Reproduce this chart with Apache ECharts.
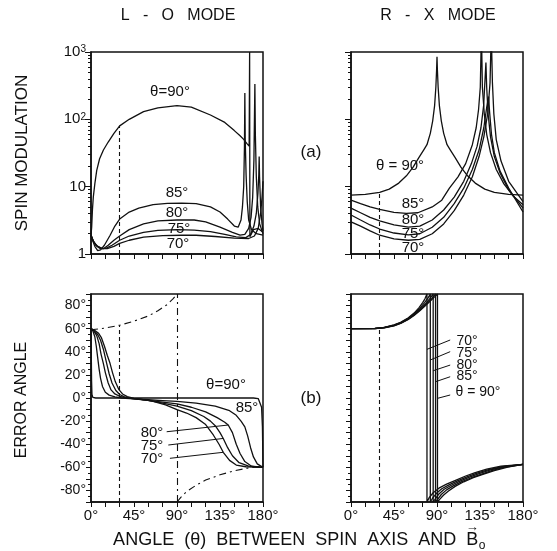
<!DOCTYPE html>
<html><head><meta charset="utf-8">
<script src="https://cdn.jsdelivr.net/npm/echarts@6/dist/echarts.min.js"></script>
<style>html,body{margin:0;padding:0;background:#fff}#c{width:557px;height:551px}</style>
</head><body><div id="c"></div>
<script>
// ---------- tick labels ----------
const xLabelAngles = [0, 45, 90, 135, 180];
const logTickValues = [1, 10, 100, 1000];
const errLabelAngles = [-80, -60, -40, -20, 0, 20, 40, 60, 80];
const thetaNames = ['θ=90°', '85°', '80°', '75°', '70°'];

// ---------- (a) L-O mode spin modulation ----------
const loMod90 = [[0,1.9],[0.7,2.5],[1.5,4.5],[2.4,7],[4,11],[6,17.5],[9,26],[13,35],[18,46],[24,62],[30,80],[40,100],[55,130],[70,148],[90,160],[105,152],[125,116],[140,90],[150,68],[156,57],[160,50],[163,44],[165.5,40],[166,1000],[166.3,1.8],[170,2.3],[175,2.4],[180,2.1]];
const loMod85 = [[0,1.9],[2,1.55],[4,1.3],[7,1.12],[10,1.15],[14,1.35],[20,1.9],[25,2.6],[30,3.3],[40,4.2],[50,4.8],[65,5.4],[80,5.65],[95,5.7],[110,5.6],[125,5.0],[135,4.2],[143,3.3],[150,2.6],[154,2.5],[157,3.2],[158.5,5],[159.8,10],[160.6,40],[161,245],[161.4,50],[162.3,15],[163.5,6],[165,3.2],[168,2.3],[173,2.0],[180,1.9]];
const loMod80 = [[0,1.9],[2,1.6],[5,1.35],[9,1.22],[13,1.2],[18,1.35],[24,1.6],[30,1.85],[40,2.3],[55,2.8],[70,3.1],[90,3.2],[108,3.2],[120,3.0],[135,2.5],[148,2.1],[156,1.9],[161,1.95],[165,2.4],[167.5,3.5],[169.2,7],[170.5,25],[171.5,335],[172,60],[173,14],[174.5,5],[176.5,2.8],[180,2.0]];
const loMod75 = [[0,1.9],[2.5,1.55],[6,1.32],[11,1.2],[16,1.22],[22,1.35],[30,1.6],[40,1.85],[55,2.1],[70,2.25],[90,2.3],[108,2.27],[125,2.15],[140,1.95],[152,1.8],[162,1.75],[167,1.95],[170.5,2.6],[173,4],[174.7,8],[175.6,15],[176,28],[176.4,14],[177.5,5],[179,2.8],[180,2.2]];
const loMod70 = [[0,1.9],[3,1.5],[7,1.3],[12,1.2],[17,1.2],[24,1.3],[30,1.44],[40,1.6],[55,1.78],[75,1.88],[95,1.9],[110,1.9],[130,1.82],[150,1.72],[165,1.7],[171,1.85],[175,2.4],[177.5,4],[179,7],[180,12]];

// ---------- (a) R-X mode spin modulation ----------
const rxMod90 = [[0,7.5],[15,7.7],[30,8.2],[40,9.2],[50,11.3],[58,14.5],[65,19.5],[71,27],[76,35],[79.5,42],[83,62],[85.5,95],[87.5,160],[88.8,300],[89.6,550],[90,850],[90.4,550],[91.2,300],[92.5,160],[94.5,95],[97,62],[100.5,42],[104,35],[109,27],[115,19.5],[122,14.5],[130,11.3],[140,9.2],[150,8.2],[165,7.7],[180,7.5]];
const rxMod85 = [[0,6.3],[10,5.6],[20,5.0],[30,4.6],[45,4.15],[58,4.0],[70,4.1],[85,5.0],[95,6.3],[103,9.5],[112,14],[120,22],[127,42],[131,75],[133.5,140],[135.3,300],[136.5,2000],[137.5,300],[139.5,120],[142,60],[146,32],[152,18],[160,11],[170,7.2],[180,5.4]];
const rxMod80 = [[0,4.8],[10,4.1],[20,3.5],[30,3.1],[45,2.7],[60,2.5],[72,2.6],[85,3.2],[97,4.5],[108,7],[118,12],[126,22],[132,40],[136,75],[138.8,160],[140.3,400],[141.2,700],[142,300],[143.5,120],[146,55],[150,28],[156,16],[165,9],[180,4.8]];
const rxMod75 = [[0,3.8],[10,3.2],[20,2.7],[30,2.35],[45,2.05],[60,1.92],[72,2.0],[85,2.5],[97,3.5],[108,5.6],[118,9.5],[127,18],[134,35],[139,75],[142,150],[144,218],[145,130],[147,60],[150,32],[156,17],[165,9.5],[180,4.2]];
const rxMod70 = [[0,3.0],[10,2.6],[20,2.2],[30,1.9],[45,1.68],[60,1.6],[72,1.65],[85,2.0],[97,2.8],[108,4.4],[118,7.5],[127,14],[134,28],[139,55],[143,120],[145.5,350],[146.8,2000],[148,350],[149.5,120],[152,50],[157,24],[165,12],[180,6]];

// ---------- (b) L-O mode error angle ----------
const loErr90 = [[0,60],[0.3,40],[0.6,15],[1,3],[2,0.5],[5,0],[60,0],[120,0],[170,0],[175,-0.5],[177,-2],[178.5,-8],[179.4,-25],[180,-60]];
const loErr85 = [[0,60],[2,58],[4,53],[5.5,45],[7,35],[8.5,25],[10,17],[12,10],[15,5],[19,2.5],[25,1],[32,0],[45,-0.8],[60,-1.5],[75,-2.2],[90,-3],[110,-4.5],[130,-7],[145,-11],[152,-15],[157,-20],[161,-25],[164,-33],[167,-43],[170,-51],[174,-57],[180,-60]];
const loErr80 = [[0,60],[3,58],[6,54],[8.5,47],[10.5,38],[12.9,30],[15,22],[18,13],[21,7],[25,3.5],[30,1.5],[36,0.3],[45,-0.7],[60,-2],[75,-3.5],[90,-5],[105,-8],[120,-12],[132,-17],[140,-21],[143.6,-23.4],[148,-30],[152,-40],[156,-48],[161,-55],[168,-59],[180,-60]];
const loErr75 = [[0,60],[3,58.5],[7,55],[10,50],[13,42],[16.4,30],[19,21],[22,13],[26,6.5],[30,3],[35,1],[42,-0.3],[50,-1],[60,-2],[75,-4.5],[90,-7],[105,-11],[118,-16],[125,-20],[130,-24],[135,-30],[138.4,-35],[143,-43],[148,-50],[155,-56],[165,-59],[180,-60]];
const loErr70 = [[0,60],[4,58.5],[8,56],[11,52],[14,45],[17,37],[19.9,30],[22.5,22],[25.5,14],[29,7.5],[33,3.5],[38,1.2],[45,-0.3],[55,-1.5],[65,-3],[78,-6],[90,-10],[100,-13],[110,-17],[120,-23],[128,-32],[134,-40],[138.4,-47],[145,-54],[152,-58],[162,-59.5],[180,-60]];
const loBoundUpper = [[0,59],[15,60.5],[30,63],[45,66.5],[60,71],[70,75.5],[80,81],[86,86],[90,90]];
const loBoundLower = [[90,-90],[94,-86],[100,-81],[110,-75.5],[120,-71],[135,-66.5],[150,-63],[165,-60.5],[180,-59]];

// ---------- (b) R-X mode error angle ----------
const rxErr70 = [[0,60],[25,60.2],[35,61.2],[45,63.3],[52,65.5],[60,69.5],[66,73.5],[71,78],[75,82.5],[77.5,86],[79.5,90],[79.5,-90],[82,-86],[86,-82],[92,-78],[100,-74.5],[110,-71],[120,-67.5],[130,-64.5],[142,-61.5],[157,-59],[180,-57.5]];
const rxErr75 = [[0,60],[25,60.2],[35,61.1],[45,63.1],[52,65.2],[60,69],[66,72.8],[72,77.5],[77,82.5],[80.5,86.5],[83,90],[83,-90],[85.5,-86.5],[89.5,-82.5],[95,-78.5],[103,-75],[112,-71.5],[122,-68],[132,-65],[144,-62],[158,-59.3],[180,-57.5]];
const rxErr80 = [[0,60],[25,60.1],[35,61],[45,62.9],[52,65],[60,68.6],[66,72.2],[72,76.5],[78,81.5],[82.5,86],[86,90],[86,-90],[88.5,-87],[92,-83],[97.5,-79],[105,-75.5],[114,-72],[124,-68.5],[134,-65.5],[146,-62.3],[160,-59.5],[180,-57.5]];
const rxErr85 = [[0,60],[25,60.1],[35,60.9],[45,62.7],[52,64.8],[60,68.3],[66,71.8],[72,76],[78,80.8],[84,85.5],[88.5,90],[88.5,-90],[91,-87.3],[94.5,-83.5],[100,-79.5],[107,-76],[116,-72.3],[126,-69],[136,-66],[148,-62.6],[162,-59.7],[180,-57.5]];
const rxErr90 = [[0,60],[25,60.1],[35,60.8],[45,62.5],[52,64.5],[60,68],[66,71.5],[72,75.5],[78,80],[83,84],[87.5,87.5],[90.5,90],[90.5,-90],[93,-87.5],[97,-84],[102,-80.5],[109,-76.5],[118,-72.5],[128,-69],[138,-66],[150,-62.8],[164,-59.8],[180,-57.5]];

// ---------- chart ----------
const F = 'Liberation Sans';
const INK = '#111';
const chart = echarts.init(document.getElementById('c'), null, {renderer: 'canvas'});

const grids = [
  {left: 91, top: 52, width: 172, height: 202},
  {left: 351, top: 52, width: 172, height: 202},
  {left: 91, top: 294, width: 172, height: 208},
  {left: 351, top: 294, width: 172, height: 208}
].map(g => Object.assign({show: true, borderColor: INK, borderWidth: 1.5, backgroundColor: 'transparent'}, g));

function xAx(i, labels) {
  return {
    gridIndex: i, type: 'value', min: 0, max: 180, interval: 15,
    axisLine: {show: true, onZero: false, lineStyle: {color: INK, width: 1.5}},
    axisTick: {show: true, length: 5, lineStyle: {color: INK, width: 1}},
    splitLine: {show: false},
    axisLabel: {show: labels, interval: 0, margin: 6, color: INK, fontFamily: F, fontSize: 15,
      formatter: v => xLabelAngles.includes(v) ? v + '°' : ''}
  };
}
function yLog(i, labels) {
  return {
    gridIndex: i, type: 'log', logBase: 10, min: logTickValues[0], max: logTickValues[logTickValues.length - 1],
    axisLine: {show: true, onZero: false, lineStyle: {color: INK, width: 1.5}},
    axisTick: {show: true, length: 6, lineStyle: {color: INK, width: 1}},
    minorTick: {show: true, splitNumber: 9, length: 3, lineStyle: {color: INK, width: 1}},
    splitLine: {show: false}, minorSplitLine: {show: false},
    axisLabel: {show: labels, margin: 5, color: INK, fontFamily: F, fontSize: 15,
      formatter: v => { const e = Math.round(Math.log10(v)); return e === 0 ? '1' : e === 1 ? '10' : '10{s|' + e + '}'; },
      rich: {s: {fontSize: 10, fontFamily: F, color: INK, verticalAlign: 'top', lineHeight: 10, padding: [0, 0, 8, 0]}}}
  };
}
function yErr(i, labels) {
  return {
    gridIndex: i, type: 'value', min: -90, max: 90, interval: 10,
    axisLine: {show: true, onZero: false, lineStyle: {color: INK, width: 1.5}},
    axisTick: {show: true, length: 5, lineStyle: {color: INK, width: 1}},
    minorTick: {show: true, splitNumber: 2, length: 3, lineStyle: {color: INK, width: 1}},
    splitLine: {show: false},
    axisLabel: {show: labels, interval: 0, margin: 5, color: INK, fontFamily: F, fontSize: 14,
      formatter: v => errLabelAngles.includes(v) ? v + '°' : ''}
  };
}

function curve(i, data, extra) {
  return Object.assign({
    type: 'line', xAxisIndex: i, yAxisIndex: i, data: data,
    showSymbol: false, symbol: 'none', smooth: false, clip: true, silent: true,
    lineStyle: {color: INK, width: 1.3}
  }, extra || {});
}
function ml(lines, type) {
  return {
    silent: true, symbol: ['none', 'none'], label: {show: false}, animation: false,
    lineStyle: {color: INK, width: 1.1, type: type || 'solid'},
    data: lines.map(l => [{coord: l[0]}, {coord: l[1]}])
  };
}
const DASH = [4, 3];
const DASHDOT = [7, 4, 2, 4];

const series = [
  curve(0, loMod90, {markLine: ml([[[30, 1], [30, 80]]], DASH)}),
  curve(0, loMod85), curve(0, loMod80), curve(0, loMod75), curve(0, loMod70),
  curve(1, rxMod90, {markLine: ml([[[30, 1], [30, 8.2]]], DASH)}),
  curve(1, rxMod85), curve(1, rxMod80), curve(1, rxMod75), curve(1, rxMod70),
  curve(2, loErr90, {markLine: {
    silent: true, symbol: ['none', 'none'], label: {show: false},
    data: [
      [{coord: [30, -90], lineStyle: {type: DASH, color: INK, width: 1.1}}, {coord: [30, 63]}],
      [{coord: [90, -90], lineStyle: {type: DASHDOT, color: INK, width: 1.1}}, {coord: [90, 90]}],
      [{coord: [79.2, -29.2], lineStyle: {type: 'solid', color: INK, width: 1}}, {coord: [143.6, -23.4]}],
      [{coord: [80.9, -40.7], lineStyle: {type: 'solid', color: INK, width: 1}}, {coord: [138.4, -35]}],
      [{coord: [82.6, -52.2], lineStyle: {type: 'solid', color: INK, width: 1}}, {coord: [138.4, -47]}]
    ]}}),
  curve(2, loErr85), curve(2, loErr80), curve(2, loErr75), curve(2, loErr70),
  curve(2, loBoundUpper, {lineStyle: {color: INK, width: 1.1, type: DASHDOT}}),
  curve(2, loBoundLower, {lineStyle: {color: INK, width: 1.1, type: DASHDOT}}),
  curve(3, rxErr90, {markLine: {
    silent: true, symbol: ['none', 'none'], label: {show: false},
    data: [
      [{coord: [30, -90], lineStyle: {type: DASH, color: INK, width: 1.1}}, {coord: [30, 60]}],
      [{coord: [103.8, 50.2], lineStyle: {type: 'solid', color: INK, width: 1}}, {coord: [79.5, 42.1]}],
      [{coord: [103.8, 40.1], lineStyle: {type: 'solid', color: INK, width: 1}}, {coord: [83, 32.9]}],
      [{coord: [103.8, 28.5], lineStyle: {type: 'solid', color: INK, width: 1}}, {coord: [86, 23.6]}],
      [{coord: [103.8, 18.4], lineStyle: {type: 'solid', color: INK, width: 1}}, {coord: [88.5, 14.1]}],
      [{coord: [103.8, 2.6], lineStyle: {type: 'solid', color: INK, width: 1}}, {coord: [90.5, -0.3]}]
    ]}}),
  curve(3, rxErr85), curve(3, rxErr80), curve(3, rxErr75), curve(3, rxErr70)
];

// ---------- text annotations ----------
function txt(s, x, y, size, opts) {
  return Object.assign({type: 'text', x: x, y: y, silent: true,
    style: {text: s, fill: INK, font: size + 'px "' + F + '"', textAlign: 'center', textVerticalAlign: 'middle'}}, opts || {});
}
const g = [
  txt('L   -   O   MODE', 178, 16, 16),
  txt('R   -   X   MODE', 438, 16, 16),
  txt('SPIN MODULATION', 22, 153, 17, {rotation: Math.PI / 2}),
  txt('ERROR ANGLE', 22, 400, 16, {rotation: Math.PI / 2}),
  txt('(a)', 311, 152, 17),
  txt('(b)', 311, 398, 17),
  // top-left
  txt(thetaNames[0], 170, 92, 15), txt(thetaNames[1], 177, 193, 15), txt(thetaNames[2], 177, 213, 15),
  txt(thetaNames[3], 179, 229, 15), txt(thetaNames[4], 178, 244, 15),
  // top-right
  txt('θ = 90°', 400, 166, 15), txt(thetaNames[1], 413, 204, 15), txt(thetaNames[2], 413, 220, 15),
  txt(thetaNames[3], 413, 234, 15), txt(thetaNames[4], 413, 248, 15),
  // bottom-left
  txt(thetaNames[0], 226, 385, 15), txt(thetaNames[1], 247, 408, 15), txt(thetaNames[2], 152, 433, 15),
  txt(thetaNames[3], 152, 446, 15), txt(thetaNames[4], 152, 459, 15),
  // bottom-right
  txt(thetaNames[4], 467, 341, 14), txt(thetaNames[3], 467, 353, 14), txt(thetaNames[2], 467, 365, 14),
  txt(thetaNames[1], 467, 376, 14), txt('θ = 90°', 478, 392, 14)
];
// x title with vector B and subscript o
(function () {
  const ctx = document.createElement('canvas').getContext('2d');
  const main = 'ANGLE  (θ)  BETWEEN  SPIN  AXIS  AND  ';
  ctx.font = '18px "' + F + '"';
  const wMain = ctx.measureText(main).width, wB = ctx.measureText('B').width;
  ctx.font = '12px "' + F + '"';
  const wO = ctx.measureText('o').width;
  const total = wMain + wB + wO;
  const left = 299 - total / 2, cy = 540;
  g.push({type: 'text', x: left, y: cy, silent: true, style: {text: main + 'B', fill: INK, font: '18px "' + F + '"', textAlign: 'left', textVerticalAlign: 'middle'}});
  g.push({type: 'text', x: left + wMain + wB + 0.5, y: cy + 6, silent: true, style: {text: 'o', fill: INK, font: '12px "' + F + '"', textAlign: 'left', textVerticalAlign: 'middle'}});
  g.push({type: 'text', x: left + wMain + wB / 2, y: cy - 13, silent: true, style: {text: '→', fill: INK, font: '13px "' + F + '"', textAlign: 'center', textVerticalAlign: 'middle'}});
})();

chart.setOption({
  animation: false,
  backgroundColor: '#fff',
  grid: grids,
  xAxis: [xAx(0, false), xAx(1, false), xAx(2, true), xAx(3, true)],
  yAxis: [yLog(0, true), yLog(1, false), yErr(2, true), yErr(3, false)],
  series: series,
  graphic: g
});
</script></body></html>
